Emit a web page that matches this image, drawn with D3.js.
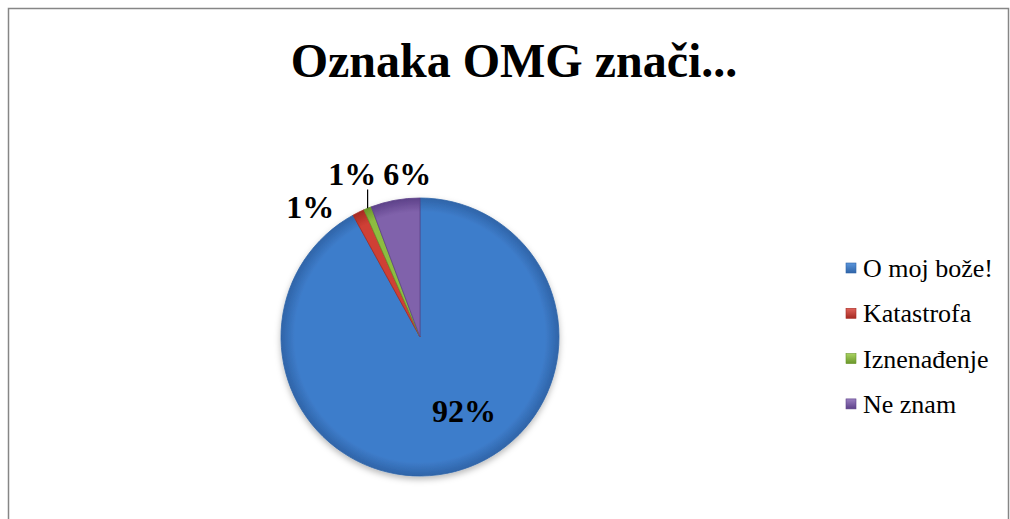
<!DOCTYPE html>
<html lang="sr">
<head>
<meta charset="UTF-8">
<title>Oznaka OMG znači...</title>
<script src="https://d3js.org/d3.v7.min.js"></script>
<style>
  body { margin: 0; background: #fff; }
</style>
</head>
<body>
<script>
  // data (shares in percent)
  const categories = ["O moj bože!", "Katastrofa", "Iznenađenje", "Ne znam"];
  const values = [92.0, 1.4, 0.9, 5.7];
  const colors = ["#3e7dcb", "#cf3f35", "#8dbd40", "#8062ab"];
  const edgeColors = ["#2f64a8", "#a52a22", "#6a962a", "#5d4189"];
  const lightColors = ["#5b95db", "#e0625a", "#a8d260", "#9a7fc0"];

  const width = 1010, height = 519;
  const cx = 420, cy = 337, radius = 139;
  const serif = "'Liberation Serif', 'Times New Roman', serif";

  const svg = d3.select("body").append("svg")
      .attr("width", width)
      .attr("height", height)
      .style("font-family", serif);

  // frame of the chart area
  svg.append("path")
      .attr("d", `M8.5,${height} V8.5 H1008.5 V${height}`)
      .attr("fill", "none")
      .attr("stroke", "#868686")
      .attr("stroke-width", 1.5);

  // title
  svg.append("text")
      .attr("x", 514)
      .attr("y", 77)
      .attr("text-anchor", "middle")
      .attr("font-family", serif)
      .attr("font-size", 48)
      .attr("font-weight", "bold")
      .text("Oznaka OMG znači...");

  const defs = svg.append("defs");

  // soft bevel look for the slices
  colors.forEach((c, i) => {
      const g = defs.append("radialGradient")
          .attr("id", "grad" + i)
          .attr("gradientUnits", "userSpaceOnUse")
          .attr("cx", 0).attr("cy", 0).attr("r", radius);
      g.append("stop").attr("offset", "0%").attr("stop-color", c);
      g.append("stop").attr("offset", "90%").attr("stop-color", c);
      g.append("stop").attr("offset", "100%").attr("stop-color", edgeColors[i]);
  });

  // legend marker gradient
  colors.forEach((c, i) => {
      const g = defs.append("linearGradient")
          .attr("id", "lgrad" + i)
          .attr("x1", 0).attr("y1", 0).attr("x2", 0).attr("y2", 1);
      g.append("stop").attr("offset", "0%").attr("stop-color", lightColors[i]);
      g.append("stop").attr("offset", "100%").attr("stop-color", edgeColors[i]);
  });

  const shadow = defs.append("filter").attr("id", "shadow")
      .attr("x", "-20%").attr("y", "-20%").attr("width", "140%").attr("height", "140%");
  shadow.append("feDropShadow")
      .attr("dx", 0).attr("dy", 3).attr("stdDeviation", 3)
      .attr("flood-color", "#000").attr("flood-opacity", 0.28);

  const pie = d3.pie().sort(null).value(d => d);
  const arcs = pie(values);
  const arc = d3.arc().innerRadius(0).outerRadius(radius);

  const chart = svg.append("g").attr("transform", `translate(${cx},${cy})`);

  chart.append("g").attr("filter", "url(#shadow)")
    .selectAll("path")
    .data(arcs)
    .enter().append("path")
      .attr("d", arc)
      .attr("fill", (d, i) => `url(#grad${i})`)
      .attr("stroke", (d, i) => edgeColors[i])
      .attr("stroke-width", 0.8)
      .attr("stroke-linejoin", "round");

  // label placement: radius and angle nudge (radians) per slice
  const labelRadius = [86, 170, 177, 164];
  const labelNudge = [-0.285, -0.243, -0.007, 0.101];
  const pos = (d, i) => {
      const a = (d.startAngle + d.endAngle) / 2 + labelNudge[i];
      return [labelRadius[i] * Math.sin(a), -labelRadius[i] * Math.cos(a)];
  };

  chart.selectAll(".label")
    .data(arcs)
    .enter().append("text")
      .attr("class", "label")
      .attr("x", (d, i) => pos(d, i)[0])
      .attr("y", (d, i) => pos(d, i)[1])
      .attr("dy", "0.35em")
      .attr("text-anchor", "middle")
      .attr("font-family", serif)
      .attr("font-size", 32)
      .attr("font-weight", "bold")
      .text(d => Math.round(d.value) + "%");

  // leader line for the thin green slice
  const g2 = arcs[2];
  const gMid = (g2.startAngle + g2.endAngle) / 2;
  const gx = radius * Math.sin(gMid), gy = -radius * Math.cos(gMid);
  chart.append("line")
      .attr("x1", gx).attr("y1", gy)
      .attr("x2", gx).attr("y2", pos(g2, 2)[1] + 16)
      .attr("stroke", "#000")
      .attr("stroke-width", 1.2);

  // legend
  const legend = svg.append("g").attr("transform", "translate(846,268)");
  const item = legend.selectAll("g")
    .data(categories)
    .enter().append("g")
      .attr("transform", (d, i) => `translate(0,${i * 45.3})`);

  item.append("rect")
      .attr("x", 0).attr("y", -5)
      .attr("width", 10).attr("height", 10)
      .attr("fill", (d, i) => `url(#lgrad${i})`)
      .attr("stroke", (d, i) => edgeColors[i])
      .attr("stroke-width", 0.6);

  item.append("text")
      .attr("x", 17)
      .attr("y", 9)
      .attr("font-family", serif)
      .attr("font-size", 26)
      .text(d => d);
</script>
</body>
</html>
